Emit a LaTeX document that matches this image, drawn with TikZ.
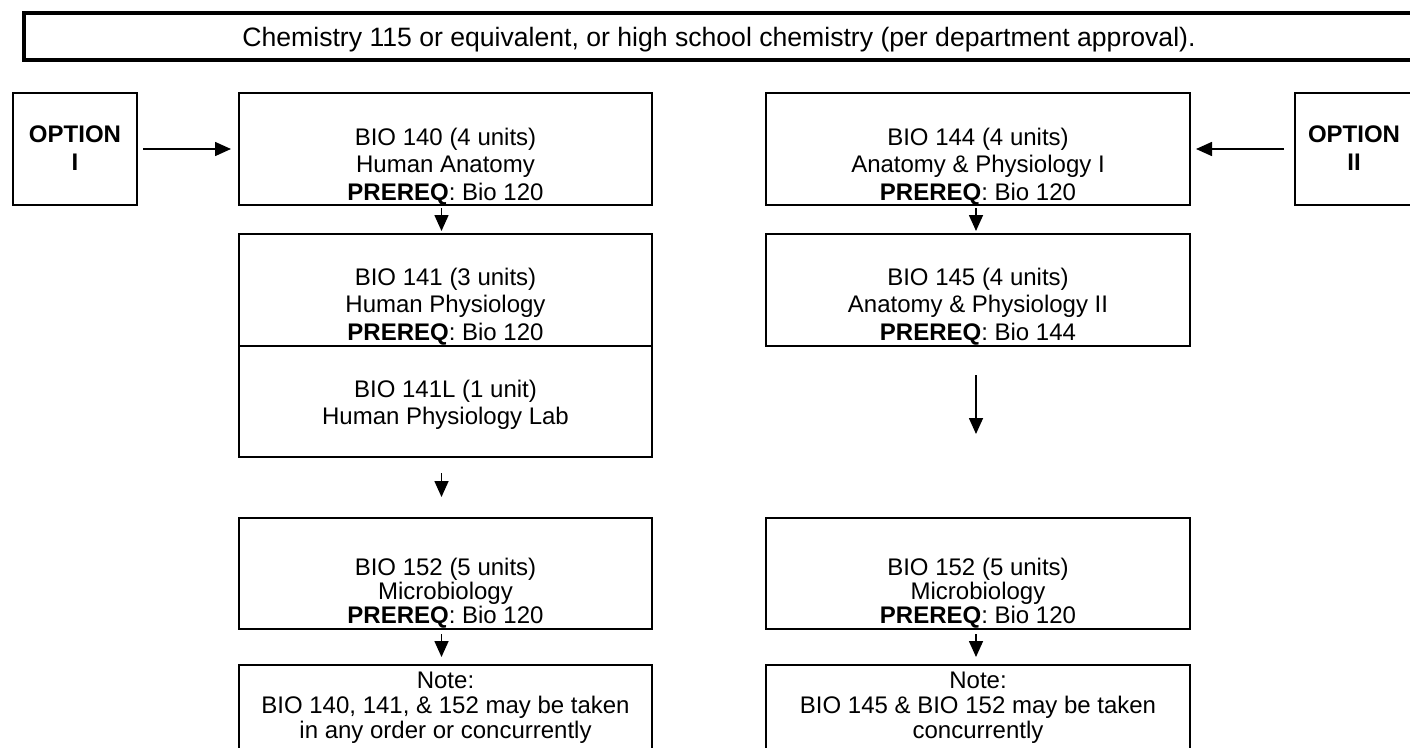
\documentclass[tikz,border=0pt]{standalone}
\usepackage{fontspec}
\setmainfont{Liberation Sans}
\usetikzlibrary{arrows.meta}
\begin{document}
\begin{tikzpicture}[x=1pt,y=-1pt,
  box/.style={draw, line width=2pt, inner sep=0pt, rectangle},
  txt/.style={font=\fontsize{24}{27.5}\selectfont, align=center, inner sep=0pt, anchor=north},
  tighttxt/.style={font=\fontsize{24}{24}\selectfont, align=center, inner sep=0pt, anchor=north},
  notetxt/.style={font=\fontsize{24}{25}\selectfont, align=center, inner sep=0pt, anchor=north},
  arr/.style={line width=1.6pt, -{Triangle[length=16pt,width=14pt]}}]
\useasboundingbox (0,0) rectangle (1410,747);
\clip (0,0) rectangle (1410,747);

\coordinate (cL) at (441.5,0);
\coordinate (cR) at (976,0);

% top box
\node[box, line width=3.5pt, minimum width=1396pt, minimum height=47pt] (chem) at (722,36.5) {};
\node[font=\fontsize{26.6}{30}\selectfont, inner sep=0pt, anchor=base] (chemtxt) at (719,46.5)
  {Chemistry 115 or equivalent, or high school chemistry (per department approval).};

% option boxes
\node[box, minimum width=124pt, minimum height=112pt] (opt1) at (75,149) {};
\node[txt] (opt1txt) at (75,126) {\textbf{OPTION}\\\textbf{I}};
\node[box, minimum width=124pt, minimum height=112pt] (opt2) at (1357,149) {};
\node[txt] (opt2txt) at (1354,126) {\textbf{OPTION}\\\textbf{II}};

% left column
\node[box, minimum width=413pt, minimum height=112pt] (b140) at (445.5,149) {};
\node[txt] (b140txt) at (445.5,127.6) {BIO 140 (4 units)\\Human Anatomy\\\textbf{PREREQ}: Bio 120};
\node[box, minimum width=413pt, minimum height=112pt] (b141) at (445.5,290) {};
\node[txt] (b141txt) at (445.5,267.6) {BIO 141 (3 units)\\Human Physiology\\\textbf{PREREQ}: Bio 120};
\node[box, minimum width=413pt, minimum height=111pt] (b141l) at (445.5,401.5) {};
\node[txt] (b141ltxt) at (445.5,379.6) {BIO 141L (1 unit)\\Human Physiology Lab};
\node[box, minimum width=413pt, minimum height=111pt] (b152l) at (445.5,573.5) {};
\node[tighttxt] (b152ltxt) at (445.5,557.6) {BIO 152 (5 units)\\Microbiology\\\textbf{PREREQ}: Bio 120};
\node[box, minimum width=413pt, minimum height=95pt] (notel) at (445.5,712.5) {};
\node[notetxt] (noteltxt) at (445.5,672) {Note:\\BIO 140, 141, \& 152 may be taken\\in any order or concurrently};

% right column
\node[box, minimum width=424pt, minimum height=112pt] (b144) at (978,149) {};
\node[txt] (b144txt) at (978,127.6) {BIO 144 (4 units)\\Anatomy \& Physiology I\\\textbf{PREREQ}: Bio 120};
\node[box, minimum width=424pt, minimum height=112pt] (b145) at (978,290) {};
\node[txt] (b145txt) at (978,267.6) {BIO 145 (4 units)\\Anatomy \& Physiology II\\\textbf{PREREQ}: Bio 144};
\node[box, minimum width=424pt, minimum height=111pt] (b152r) at (978,573.5) {};
\node[tighttxt] (b152rtxt) at (978,557.6) {BIO 152 (5 units)\\Microbiology\\\textbf{PREREQ}: Bio 120};
\node[box, minimum width=424pt, minimum height=95pt] (noter) at (978,712.5) {};
\node[notetxt] (notertxt) at (978,672) {Note:\\BIO 145 \& BIO 152 may be taken\\concurrently};

% arrows
\draw[arr, shorten <=5pt, shorten >=7pt] (opt1.east) -- (b140.west);
\draw[arr, shorten <=10pt, shorten >=5pt] (opt2.west) -- (b144.east);
\draw[arr, shorten <=2pt, shorten >=2pt] (b140.south -| cL) -- (b141.north -| cL);
\draw[arr, shorten <=15pt, shorten >=20pt] (b141l.south -| cL) -- (b152l.north -| cL);
\draw[arr, shorten <=4pt, shorten >=7pt] (b152l.south -| cL) -- (notel.north -| cL);
\draw[arr, shorten <=2pt, shorten >=2pt] (b144.south -| cR) -- (b145.north -| cR);
\draw[arr, shorten <=28pt, shorten >=83pt] (b145.south -| cR) -- (b152r.north -| cR);
\draw[arr, shorten <=4pt, shorten >=7pt] (b152r.south -| cR) -- (noter.north -| cR);
\end{tikzpicture}
\end{document}
